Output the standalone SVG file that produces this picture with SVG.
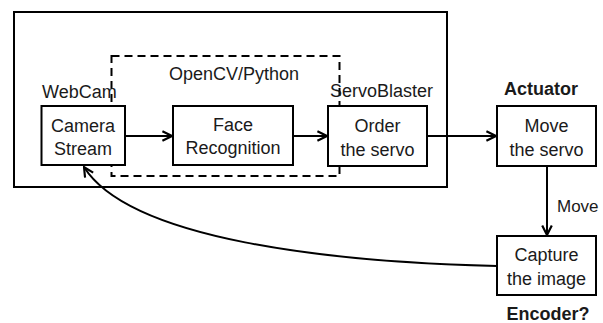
<svg xmlns="http://www.w3.org/2000/svg" width="603" height="323" viewBox="0 0 603 323">
  <style>
    .box { fill: #ffffff; stroke: #000000; stroke-width: 2; }
    .frame { fill: none; stroke: #000000; stroke-width: 2; }
    .dash { fill: none; stroke: #000000; stroke-width: 2; stroke-dasharray: 8 5; }
    .edge { fill: none; stroke: #000000; stroke-width: 2; marker-end: url(#arrow); }
    text { font-family: "Liberation Sans", Arial, sans-serif; font-size: 18px; fill: #1a1a1a; }
    .mid { text-anchor: middle; }
    .bold { font-weight: bold; }
    .small { font-size: 17px; }
  </style>
  <defs>
    <marker id="arrow" viewBox="0 0 10 10" refX="9" refY="5" markerWidth="6" markerHeight="6" orient="auto" markerUnits="strokeWidth">
      <path d="M1,1 L9,5 L1,9" fill="none" stroke="#000000" stroke-width="1.8"/>
    </marker>
  </defs>
  <rect width="603" height="323" fill="#ffffff"/>

  <!-- Raspberry Pi frame and software region -->
  <g id="system-frame">
    <rect class="frame" x="14" y="12" width="433" height="175"/>
  </g>
  <g id="opencv-region">
    <rect class="dash" x="111.5" y="56" width="228" height="120"/>
    <text class="mid" x="234" y="80">OpenCV/Python</text>
  </g>

  <!-- Connectors -->
  <g id="connectors">
    <line class="edge" x1="125" y1="136" x2="172" y2="136"/>
    <line class="edge" x1="293" y1="136" x2="327" y2="136"/>
    <line class="edge" x1="427" y1="136" x2="496" y2="136"/>
    <line class="edge" x1="547" y1="166" x2="547" y2="235"/>
    <path class="edge" d="M497,266 C330,262 130,240 84,167"/>
    <text class="small" x="557" y="212">Move</text>
  </g>

  <!-- Nodes -->
  <g id="camera-stream">
    <text x="42" y="98">WebCam</text>
    <rect class="box" x="41.5" y="106" width="83.5" height="59"/>
    <text class="mid" x="83" y="132">Camera</text>
    <text class="mid" x="83" y="155">Stream</text>
  </g>
  <g id="face-recognition">
    <rect class="box" x="173" y="106" width="120" height="59"/>
    <text class="mid" x="233" y="131">Face</text>
    <text class="mid" x="233" y="154">Recognition</text>
  </g>
  <g id="order-servo">
    <text x="330" y="97">ServoBlaster</text>
    <rect class="box" x="328" y="106" width="99" height="60"/>
    <text class="mid" x="377.5" y="132">Order</text>
    <text class="mid" x="377.5" y="156">the servo</text>
  </g>
  <g id="move-servo">
    <text class="mid bold" x="541" y="95">Actuator</text>
    <rect class="box" x="497" y="106" width="99" height="60"/>
    <text class="mid" x="546.5" y="132">Move</text>
    <text class="mid" x="546.5" y="156">the servo</text>
  </g>
  <g id="capture-image">
    <rect class="box" x="497" y="236" width="99" height="59"/>
    <text class="mid" x="546.5" y="261">Capture</text>
    <text class="mid" x="546.5" y="285">the image</text>
    <text class="mid bold" x="548" y="320">Encoder?</text>
  </g>
</svg>
